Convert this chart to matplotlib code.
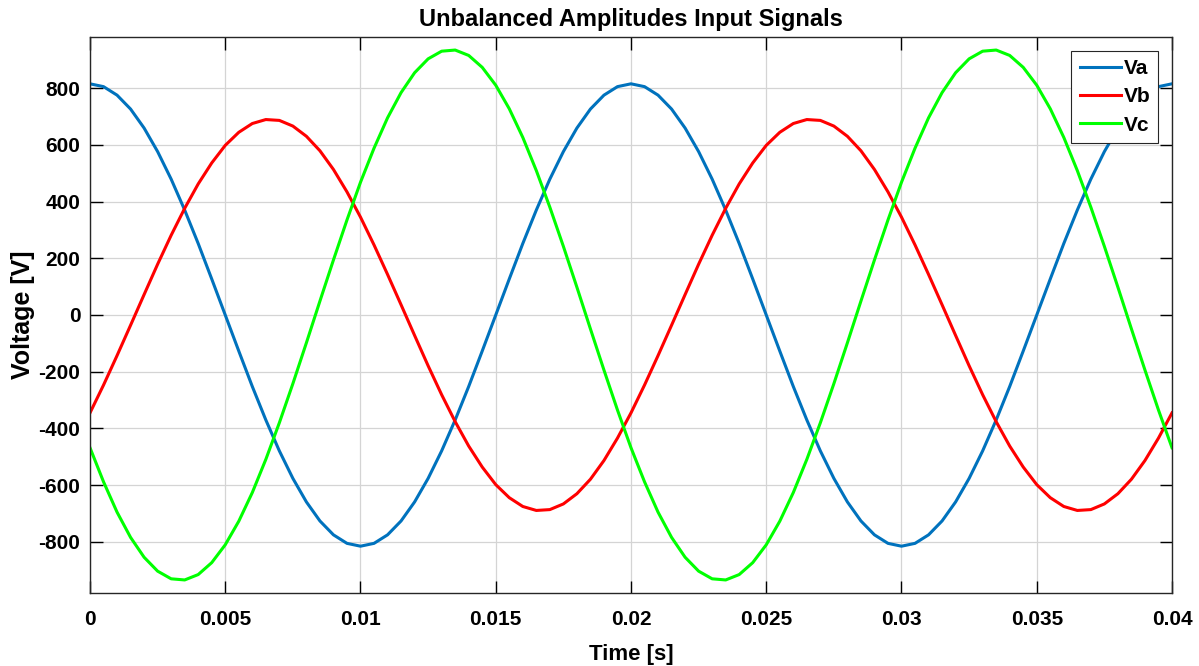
import numpy as np
import matplotlib
matplotlib.use("Agg")
import matplotlib.pyplot as plt

# sample instants, 0.5 ms steps over 0..0.04 s
t = np.arange(81) * 0.0005

# phase voltages (V)
va = [815, 805, 775, 726, 659, 576, 479, 370, 252, 127,
      0, -127, -252, -370, -479, -576, -659, -726, -775, -805,
      -815, -805, -775, -726, -659, -576, -479, -370, -252, -127,
      0, 127, 252, 370, 479, 576, 659, 726, 775, 805,
      815, 805, 775, 726, 659, 576, 479, 370, 252, 127,
      0, -127, -252, -370, -479, -576, -659, -726, -775, -805,
      -815, -805, -775, -726, -659, -576, -479, -370, -252, -127,
      0, 127, 252, 370, 479, 576, 659, 726, 775, 805,
      815]
vb = [-345, -247, -143, -36, 72, 179, 281, 376, 462, 536,
      598, 644, 675, 689, 686, 666, 630, 579, 513, 434,
      345, 247, 143, 36, -72, -179, -281, -376, -462, -536,
      -598, -644, -675, -689, -686, -666, -630, -579, -513, -434,
      -345, -247, -143, -36, 72, 179, 281, 376, 462, 536,
      598, 644, 675, 689, 686, 666, 630, 579, 513, 434,
      345, 247, 143, 36, -72, -179, -281, -376, -462, -536,
      -598, -644, -675, -689, -686, -666, -630, -579, -513, -434,
      -345]
vc = [-468, -588, -695, -784, -854, -903, -930, -934, -915, -873,
      -810, -727, -626, -509, -380, -242, -98, 49, 194, 335,
      468, 588, 695, 784, 854, 903, 930, 934, 915, 873,
      810, 727, 626, 509, 380, 242, 98, -49, -194, -335,
      -468, -588, -695, -784, -854, -903, -930, -934, -915, -873,
      -810, -727, -626, -509, -380, -242, -98, 49, 194, 335,
      468, 588, 695, 784, 854, 903, 930, 934, 915, 873,
      810, 727, 626, 509, 380, 242, 98, -49, -194, -335,
      -468]

xticks = [0, 0.005, 0.01, 0.015, 0.02, 0.025, 0.03, 0.035, 0.04]
xtick_labels = ["0", "0.005", "0.01", "0.015", "0.02", "0.025", "0.03", "0.035", "0.04"]
yticks = [-800, -600, -400, -200, 0, 200, 400, 600, 800]

plt.rcParams["font.family"] = ["Liberation Sans", "DejaVu Sans"]
plt.rcParams["axes.unicode_minus"] = False

fig = plt.figure(figsize=(11.99, 6.66), dpi=100)
ax = fig.add_axes([90 / 1199, 1 - 593 / 666, 1082 / 1199, 556 / 666])

ax.plot(t, va, color="#0072BD", lw=2.2, label="Va")
ax.plot(t, vb, color="#FF0000", lw=2.2, label="Vb")
ax.plot(t, vc, color="#00FF00", lw=2.2, label="Vc")

ax.set_xlim(0, 0.04)
ax.set_ylim(-980, 980)
ax.set_xticks(xticks)
ax.set_xticklabels(xtick_labels)
ax.set_yticks(yticks)

ax.grid(True, color="#d4d4d4", lw=0.9)
ax.set_axisbelow(True)
ax.tick_params(direction="in", length=9, width=1, top=True, right=True,
               labelsize=15, colors="black")
ax.tick_params(axis="x", pad=12)
ax.tick_params(axis="y", pad=7)
for lbl in ax.get_xticklabels() + ax.get_yticklabels():
    lbl.set_fontweight("bold")
for sp in ax.spines.values():
    sp.set_linewidth(1.0)
    sp.set_color("#262626")

ax.set_title("Unbalanced Amplitudes Input Signals", fontsize=17, fontweight="bold", pad=8)
ax.set_xlabel("Time [s]", fontsize=16, fontweight="bold")
ax.set_ylabel("Voltage [V]", fontsize=18, fontweight="bold")
ax.xaxis.set_label_coords(0.5, -0.092)
ax.yaxis.set_label_coords(-0.051, 0.5)

leg = ax.legend(loc="upper right", prop={"size": 15, "weight": "bold"},
                fancybox=False, framealpha=1, edgecolor="#262626",
                handlelength=2.0, handletextpad=0.1, borderpad=0.4,
                labelspacing=0.45, borderaxespad=0.65)
leg.get_frame().set_linewidth(0.8)

fig.savefig("out.png", dpi=100)
